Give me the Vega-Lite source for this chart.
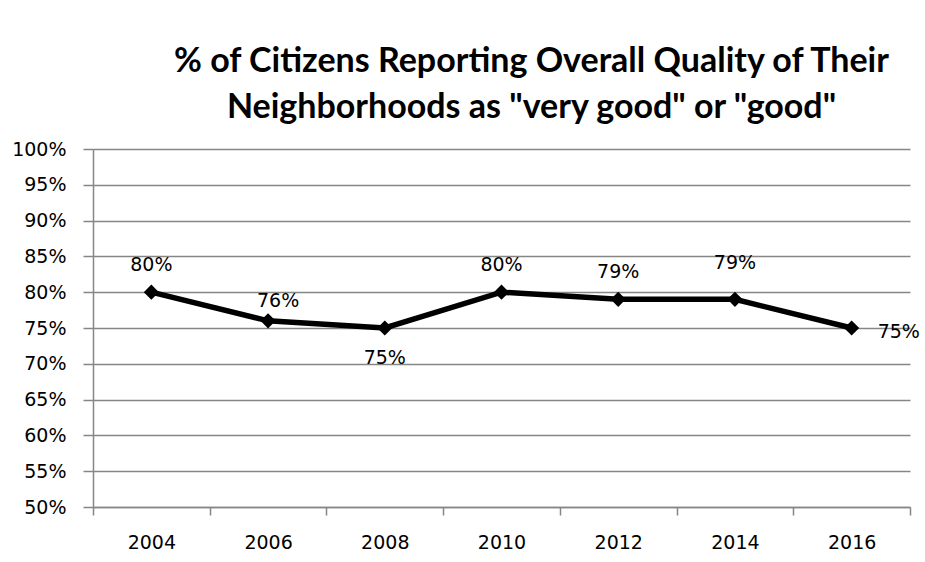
{
  "$schema": "https://vega.github.io/schema/vega-lite/v6.json",
  "width": 817,
  "height": 358,
  "autosize": {"type": "none"},
  "padding": {"left": 93, "top": 149, "right": 15, "bottom": 55},
  "background": "white",
  "title": {
    "text": ["% of Citizens Reporting Overall Quality of Their", "Neighborhoods  as \"very good\" or \"good\""],
    "font": "Lato",
    "fontSize": 34,
    "fontWeight": "bold",
    "color": "black",
    "anchor": "middle",
    "dx": 30,
    "offset": 15,
    "lineHeight": 46
  },
  "data": {
    "values": [
      {"year": "2004", "value": 0.80},
      {"year": "2006", "value": 0.76},
      {"year": "2008", "value": 0.75},
      {"year": "2010", "value": 0.80},
      {"year": "2012", "value": 0.79},
      {"year": "2014", "value": 0.79},
      {"year": "2016", "value": 0.75}
    ]
  },
  "encoding": {
    "x": {
      "field": "year", "type": "nominal",
      "scale": {"type": "band", "paddingInner": 0, "paddingOuter": 0},
      "axis": {
        "title": null, "labelAngle": 0, "grid": false,
        "tickBand": "extent", "tickSize": 8, "tickColor": "#868686", "tickWidth": 1.5,
        "domainColor": "#868686", "domainWidth": 1.5,
        "labelFont": "DejaVu Sans", "labelFontSize": 19, "labelColor": "black", "labelPadding": 18
      }
    },
    "y": {
      "field": "value", "type": "quantitative",
      "scale": {"domain": [0.5, 1.0], "nice": false, "zero": false},
      "axis": {
        "title": null, "format": ".0%", "values": [0.5,0.55,0.6,0.65,0.7,0.75,0.8,0.85,0.9,0.95,1.0],
        "grid": true, "gridColor": "#868686", "gridWidth": 1.5,
        "tickSize": 10, "tickColor": "#868686", "tickWidth": 1.5,
        "domainColor": "#868686", "domainWidth": 1.5,
        "labelFont": "DejaVu Sans", "labelFontSize": 19, "labelColor": "black", "labelPadding": 17
      }
    }
  },
  "layer": [
    {"mark": {"type": "line", "color": "black", "strokeWidth": 5.5}},
    {"mark": {"type": "point", "shape": "diamond", "filled": true, "color": "black", "size": 230, "opacity": 1}},
    {
      "transform": [{"filter": "indexof(['2004','2010','2012'], datum.year) >= 0"}],
      "mark": {"type": "text", "font": "DejaVu Sans", "fontSize": 19, "color": "black", "dy": -27},
      "encoding": {"text": {"field": "value", "type": "quantitative", "format": ".0%"}}
    },
    {
      "transform": [{"filter": "datum.year == '2014'"}],
      "mark": {"type": "text", "font": "DejaVu Sans", "fontSize": 19, "color": "black", "dy": -36},
      "encoding": {"text": {"field": "value", "type": "quantitative", "format": ".0%"}}
    },
    {
      "transform": [{"filter": "datum.year == '2006'"}],
      "mark": {"type": "text", "font": "DejaVu Sans", "fontSize": 19, "color": "black", "dy": -20, "dx": 10},
      "encoding": {"text": {"field": "value", "type": "quantitative", "format": ".0%"}}
    },
    {
      "transform": [{"filter": "datum.year == '2008'"}],
      "mark": {"type": "text", "font": "DejaVu Sans", "fontSize": 19, "color": "black", "dy": 30},
      "encoding": {"text": {"field": "value", "type": "quantitative", "format": ".0%"}}
    },
    {
      "transform": [{"filter": "datum.year == '2016'"}],
      "mark": {"type": "text", "font": "DejaVu Sans", "fontSize": 19, "color": "black", "dx": 26, "align": "left", "dy": 4},
      "encoding": {"text": {"field": "value", "type": "quantitative", "format": ".0%"}}
    }
  ],
  "config": {"view": {"stroke": null}}
}
